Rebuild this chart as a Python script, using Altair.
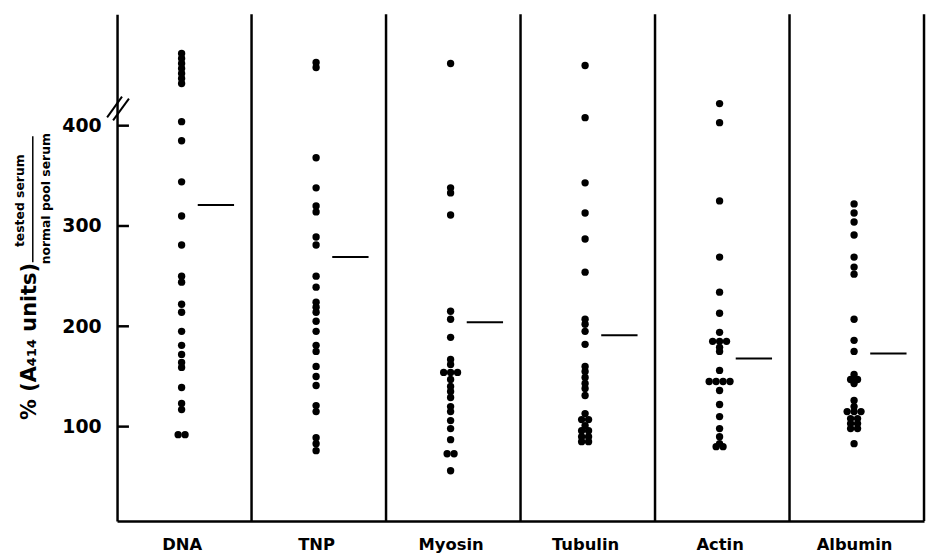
import altair as alt
import pandas as pd

categories = ["DNA", "TNP", "Myosin", "Tubulin", "Actin", "Albumin"]

dna = [472, 467, 462, 457, 452, 447, 442, 404, 385, 344, 310, 281, 250, 244,
       222, 214, 195, 181, 172, 164, 159, 139, 123, 117, 92, 92]
tnp = [463, 458, 368, 338, 320, 314, 289, 281, 250, 239, 224, 219, 214, 205,
       195, 181, 175, 160, 150, 141, 121, 115, 89, 83, 76]
myosin = [462, 338, 333, 311, 215, 207, 189, 167, 162, 154, 154, 154, 147, 140,
          135, 129, 120, 115, 106, 98, 87, 73, 73, 56]
tubulin = [460, 408, 343, 313, 287, 254, 207, 202, 195, 182, 160, 155, 149, 143,
           138, 131, 113, 107, 107, 101, 96, 96, 90, 90, 85, 85]
actin = [422, 403, 325, 269, 234, 213, 194, 185, 185, 185, 179, 175, 156, 145,
         145, 145, 145, 136, 122, 110, 98, 90, 83, 80, 80]
albumin = [322, 313, 304, 291, 269, 259, 252, 207, 186, 175, 152, 147, 147, 143,
           126, 120, 115, 115, 115, 108, 108, 103, 103, 98, 98, 83]
series = [dna, tnp, myosin, tubulin, actin, albumin]

means = [321, 269, 204, 191, 168, 173]
y_ticks = [100, 200, 300, 400]

W, H = 814, 511
YMIN, YMAX = 6, 511
unit_px = W / len(categories)
CENTER = 0.48
DOT_GAP = 7  # px between side-by-side dots of equal value

rows = []
for i, (cat, vals) in enumerate(zip(categories, series)):
    counts = {}
    for v in vals:
        counts[v] = counts.get(v, 0) + 1
    seen = {}
    for v in vals:
        k = seen.get(v, 0)
        seen[v] = k + 1
        n = counts[v]
        off = (k - (n - 1) / 2) * DOT_GAP / unit_px
        rows.append({"cat": cat, "value": v, "x": i + CENTER + off})
pts = pd.DataFrame(rows)

mean_df = pd.DataFrame({
    "cat": categories,
    "mean": means,
    "xs": [i + 0.60 for i in range(len(categories))],
    "xe": [i + 0.87 for i in range(len(categories))],
})
sep_df = pd.DataFrame({"sep": [i + 1 for i in range(len(categories))]})
tick_df = pd.DataFrame({"t": y_ticks})
one = pd.DataFrame({"a": [0]})

xscale = alt.Scale(domain=[0, len(categories)], nice=False, zero=False)
yscale = alt.Scale(domain=[YMIN, YMAX], nice=False, zero=False)

label_expr = "[" + ",".join("'%s'" % c for c in categories) + "][round(datum.value - %s)]" % CENTER

FONT = "DejaVu Sans"

xaxis = alt.Axis(values=[i + CENTER for i in range(len(categories))],
                 labelExpr=label_expr, title=None, grid=False, ticks=False,
                 domainColor="black", domainWidth=2.5,
                 labelFont=FONT, labelFontSize=16.5, labelFontWeight="bold",
                 labelColor="black", labelPadding=16, labelFlush=False,
                 labelOverlap=False)
yaxis = alt.Axis(values=y_ticks, title=None, grid=False, ticks=False,
                 domainColor="black", domainWidth=2.5,
                 labelFont=FONT, labelFontSize=19, labelFontWeight="bold",
                 labelColor="black", labelPadding=16)

points = alt.Chart(pts).mark_circle(size=55, color="black", opacity=1).encode(
    x=alt.X("x:Q", scale=xscale, axis=xaxis),
    y=alt.Y("value:Q", scale=yscale, axis=yaxis),
)

mean_lines = alt.Chart(mean_df).mark_rule(color="black", strokeWidth=2).encode(
    x=alt.X("xs:Q", scale=xscale, axis=xaxis),
    x2="xe:Q",
    y=alt.Y("mean:Q", scale=yscale, axis=yaxis),
)

seps = alt.Chart(sep_df).mark_rule(color="black", strokeWidth=2.5).encode(
    x=alt.X("sep:Q", scale=xscale, axis=xaxis),
    y=alt.value(0),
    y2=alt.value(H),
)

yticks = alt.Chart(tick_df).mark_rule(color="black", strokeWidth=2.5).encode(
    y=alt.Y("t:Q", scale=yscale, axis=yaxis),
    x=alt.value(0),
    x2=alt.value(12),
)

slash1 = alt.Chart(one).mark_rule(color="black", strokeWidth=2).encode(
    x=alt.value(-10), y=alt.value(104), x2=alt.value(5), y2=alt.value(83))
slash2 = alt.Chart(one).mark_rule(color="black", strokeWidth=2).encode(
    x=alt.value(-4), y=alt.value(107), x2=alt.value(12), y2=alt.value(85))

title_main = alt.Chart(one).mark_text(
    text="% (A₄₁₄ units)", angle=270, font=FONT, fontSize=21, fontWeight="bold",
    align="center", baseline="middle", color="black").encode(
    x=alt.value(-88), y=alt.value(330))
title_num = alt.Chart(one).mark_text(
    text="tested serum", angle=270, font=FONT, fontSize=12.5, fontWeight="bold",
    align="center", baseline="middle", color="black").encode(
    x=alt.value(-98), y=alt.value(188))
title_den = alt.Chart(one).mark_text(
    text="normal pool serum", angle=270, font=FONT, fontSize=12.5, fontWeight="bold",
    align="center", baseline="middle", color="black").encode(
    x=alt.value(-72), y=alt.value(186))
frac_line = alt.Chart(one).mark_rule(color="black", strokeWidth=1.5).encode(
    x=alt.value(-85), y=alt.value(123), y2=alt.value(250))

chart = alt.layer(
    points, seps, mean_lines, yticks, slash1, slash2,
    title_main, title_num, title_den, frac_line,
).properties(
    width=W, height=H,
    autosize=alt.AutoSizeParams(type="none"),
    padding={"left": 110, "top": 4, "right": 2, "bottom": 32},
    background="white",
).configure_view(stroke=None)

chart.save("out.html", embed_options={"renderer": "svg", "actions": False})
